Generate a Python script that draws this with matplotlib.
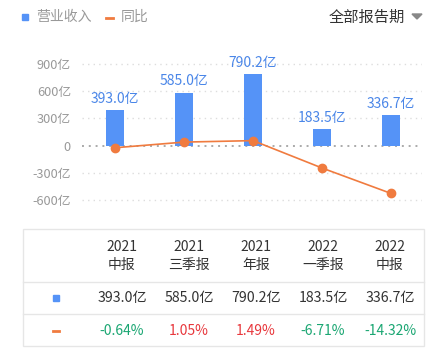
import matplotlib.pyplot as plt
from matplotlib.patches import Rectangle, Polygon
from matplotlib.lines import Line2D

plt.rcParams['font.family'] = ['Noto Sans CJK SC', 'DejaVu Sans']

periods = ['2021\n中报', '2021\n三季报', '2021\n年报', '2022\n一季报', '2022\n中报']
revenue = [393.0, 585.0, 790.2, 183.5, 336.7]      # 亿
growth = [-0.64, 1.05, 1.49, -6.71, -14.32]        # %
yticks = [-600, -300, 0, 300, 600, 900]

W, H = 444, 357
blue = '#5593F7'
label_blue = '#4A86E8'
orange = '#F07B3F'
grey = '#999999'
red = '#E8383D'
green = '#1AA672'


def fx(x):
    return x / W


def fy(y):
    return 1 - y / H


fig = plt.figure(figsize=(W / 100, H / 100), dpi=100)

# chart area
ax = fig.add_axes([fx(82), fy(210), fx(422) - fx(82), fy(50) - fy(210)])
ylo, yhi = -710, 1054
ax.set_ylim(ylo, yhi)
ax.set_xlim(-0.48, 4.45)
xs = range(len(revenue))
ax.bar(xs, revenue, width=0.26, color=blue, zorder=2)
for x, v in zip(xs, revenue):
    ax.annotate(f'{v:.1f}亿', (x, v), xytext=(0, 3), textcoords='offset points',
                ha='center', va='bottom', color=label_blue, fontsize=10)
for t in yticks:
    if t == 0:
        ax.axhline(0, color='#aaaaaa', lw=1.4, ls=(0, (1, 2.5)), zorder=1)
    else:
        ax.axhline(t, color='#dddddd', lw=1.0, ls=(0, (1, 3)), zorder=1)
ax.set_yticks(yticks)
ax.set_yticklabels([f'{t}亿' if t else '0' for t in yticks])
ax.tick_params(axis='y', length=0, pad=8, labelsize=9.2, labelcolor=grey)
ax.set_xticks([])
for s in ax.spines.values():
    s.set_visible(False)

# growth line on its own scale (about 36.8 亿 per %)
ax2 = ax.twinx()
k = 36.8
ax2.set_ylim(ylo / k, yhi / k)
ax2.plot(list(xs), growth, color=orange, lw=1.2, marker='o', ms=6, zorder=3)
ax2.axis('off')

# legend / header
fig.add_artist(Rectangle((fx(22), fy(20)), fx(6), 6 / H, color=blue, transform=fig.transFigure))
fig.text(fx(36), fy(17), '营业收入', color=grey, fontsize=10, va='center')
fig.add_artist(Line2D([fx(106), fx(113)], [fy(18), fy(18)], color=orange, lw=2, transform=fig.transFigure))
fig.text(fx(121), fy(17), '同比', color=grey, fontsize=10, va='center')
fig.text(fx(405), fy(17), '全部报告期', color='#333333', fontsize=11, va='center', ha='right')
fig.add_artist(Polygon([[fx(412), fy(14)], [fx(422), fy(14)], [fx(417), fy(19)]],
                       closed=True, color='#888888', transform=fig.transFigure))

# table
fig.add_artist(Rectangle((fx(23), fy(346)), fx(424) - fx(23), (346 - 229) / H,
                         fill=False, ec='#e6e6e6', lw=1, transform=fig.transFigure))
for yl in [282, 314]:
    fig.add_artist(Line2D([fx(23), fx(424)], [fy(yl), fy(yl)], color='#e6e6e6', lw=1,
                          transform=fig.transFigure))
cols = [122, 189, 256, 323, 390]
for cx, p, v, g in zip(cols, periods, revenue, growth):
    fig.text(fx(cx), fy(256), p, ha='center', va='center', fontsize=10,
             color='#333333', linespacing=1.4)
    fig.text(fx(cx), fy(298), f'{v:.1f}亿', ha='center', va='center', fontsize=10.2,
             color='#333333')
    fig.text(fx(cx), fy(331), f'{g:.2f}%', ha='center', va='center', fontsize=10,
             color=red if g > 0 else green)
fig.add_artist(Rectangle((fx(53), fy(301)), fx(6), 6 / H, color=blue, transform=fig.transFigure))
fig.add_artist(Line2D([fx(53), fx(59)], [fy(331), fy(331)], color=orange, lw=2,
                      transform=fig.transFigure))

fig.savefig('out.png', dpi=100)
